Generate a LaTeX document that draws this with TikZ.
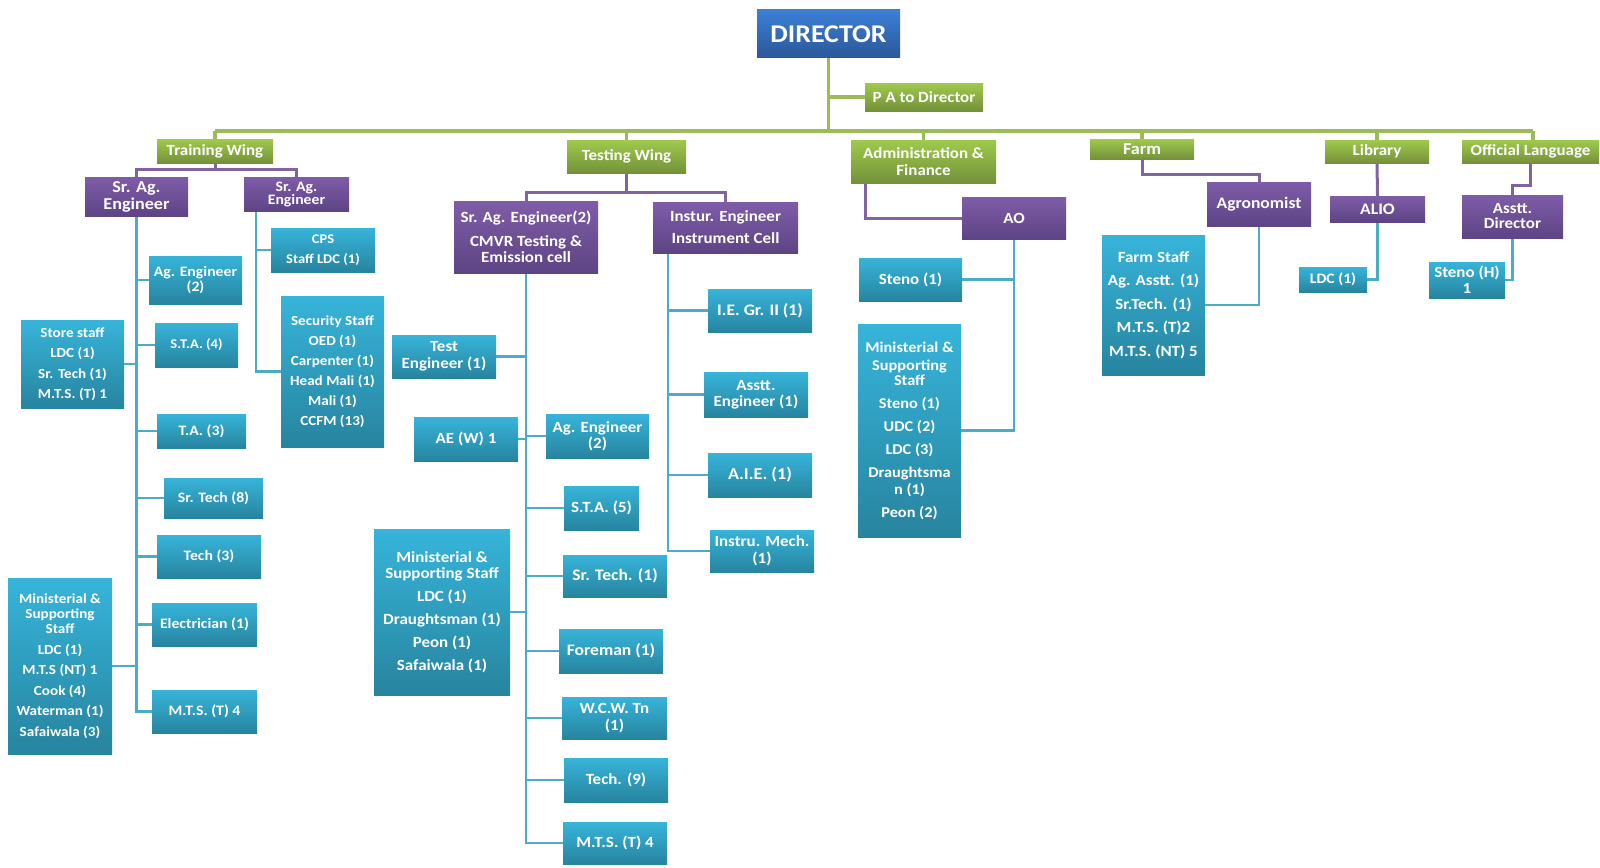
\documentclass[tikz,border=0pt]{standalone}
\usepackage{fontspec}
\setmainfont{Carlito}[FakeStretch=1.09]
\usetikzlibrary{calc}
\pgfdeclarelayer{bg}
\pgfsetlayers{bg,main}
\definecolor{gtop}{HTML}{9FCA4C}
\definecolor{gbot}{HTML}{74913A}
\definecolor{ptop}{HTML}{7F5CA8}
\definecolor{pbot}{HTML}{5D4484}
\definecolor{ttop}{HTML}{37B4DA}
\definecolor{tbot}{HTML}{27849F}
\definecolor{btop}{HTML}{3C80D6}
\definecolor{bbot}{HTML}{2A5797}
\definecolor{gline}{HTML}{9BBB59}
\definecolor{pline}{HTML}{8064A2}
\definecolor{tline}{HTML}{4BACC6}
\newcommand{\myfs}[2]{\fontsize{\fpeval{#1*1.11}}{#2}\selectfont\bfseries\lineskiplimit=-100pt\lineskip=0pt}
\tikzset{
  fs/.style 2 args={font=\myfs{#1}{#2}},
  base/.style={text=white,align=center,inner sep=1pt,draw=none},
  gbx/.style={base,top color=gtop,bottom color=gbot},
  pbx/.style={base,top color=ptop,bottom color=pbot},
  tbx/.style={base,top color=ttop,bottom color=tbot},
  dbx/.style={base,top color=btop,bottom color=bbot},
  gl/.style={draw=gline,line width=3.5pt},
  pl/.style={draw=pline,line width=3pt},
  tl/.style={draw=tline,line width=2.6pt},
}
\newcommand{\ob}[7]{\node[#1,minimum width={(#5-#3)*1pt},minimum height={(#6-#4)*1pt}] (#2) at ({(#3+#5)/2},{(#4+#6)/2}) {#7};}
\begin{document}
\begin{tikzpicture}[x=1pt,y=-1pt]
\useasboundingbox (0,0) rectangle (1600,867);
\coordinate (busL) at (215,131);
\coordinate (busR) at (1533,131);
% ---------- nodes ----------
\ob{dbx,fs={23}{26}}{director}{757}{10}{900}{58}{DIRECTOR}
\ob{gbx,fs={14}{17}}{pa}{865}{83}{983}{111}{P A to Director}
\ob{gbx,fs={14}{17}}{training}{157}{139}{273}{163}{Training Wing}
\ob{gbx,fs={14}{17}}{testing}{567}{140}{686}{173}{Testing Wing}
\ob{gbx,fs={14}{17}}{admin}{851}{140}{996}{183}{Administration \&\\Finance}
\ob{gbx,fs={15}{17}}{farm}{1090}{139}{1194}{159}{Farm}
\ob{gbx,fs={14}{17}}{library}{1325}{140}{1429}{163}{Library}
\ob{gbx,fs={14}{17}}{official}{1462}{140}{1599}{163}{Official Language}
% training wing
\ob{pbx,fs={15}{17}}{srag1}{85}{177}{188}{216}{Sr. Ag.\\Engineer}
\ob{pbx,fs={13}{13}}{srag2}{244}{177}{349}{211}{Sr. Ag.\\Engineer}
\ob{tbx,fs={12}{20}}{cps}{271}{228}{375}{272}{CPS\\Staff LDC (1)}
\ob{tbx,fs={12.5}{20}}{security}{281}{296}{384}{447}{Security Staff\\OED (1)\\Carpenter (1)\\Head Mali (1)\\Mali (1)\\CCFM (13)}
\ob{tbx,fs={13}{15}}{agengT}{149}{256}{242}{304}{Ag. Engineer\\(2)}
\ob{tbx,fs={12.5}{20.5}}{store}{21}{320}{124}{408}{Store staff\\LDC (1)\\Sr. Tech (1)\\M.T.S. (T) 1}
\ob{tbx,fs={12}{15}}{sta4}{155}{323}{238}{367}{S.T.A. (4)}
\ob{tbx,fs={13}{15}}{ta3}{157}{414}{246}{448}{T.A. (3)}
\ob{tbx,fs={13}{15}}{srtech8}{164}{478}{263}{518}{Sr. Tech (8)}
\ob{tbx,fs={13}{15}}{tech3}{157}{535}{261}{578}{Tech (3)}
\ob{tbx,fs={13}{15}}{elec}{152}{603}{257}{646}{Electrician (1)}
\ob{tbx,fs={13}{15}}{mtsT}{152}{690}{257}{733}{M.T.S. (T) 4}
\ob{tbx,fs={12.5}{20.5}}{minT}{8}{578}{112}{754}{Ministerial \&\\[-5.5pt]Supporting\\[-5.5pt]Staff\\LDC (1)\\M.T.S (NT) 1\\Cook (4)\\Waterman (1)\\Safaiwala (3)}
% testing wing
\ob{pbx,fs={14}{24}}{srag3}{454}{201}{598}{273}{Sr. Ag. Engineer(2)\\CMVR Testing \&\\[-8pt]Emission cell}
\ob{pbx,fs={14}{22}}{instur}{653}{202}{798}{253}{Instur. Engineer\\Instrument Cell}
\ob{tbx,fs={14}{17.5}}{testeng}{392}{335}{496}{378}{Test\\Engineer (1)}
\ob{tbx,fs={14.5}{17}}{iegr}{708}{289}{812}{332}{I.E. Gr. II (1)}
\ob{tbx,fs={14}{16}}{asstteng}{704}{372}{808}{417}{Asstt.\\Engineer (1)}
\ob{tbx,fs={14}{16}}{aew}{414}{417}{518}{461}{AE (W) 1}
\ob{tbx,fs={14}{16.5}}{agengTest}{546}{414}{649}{458}{Ag. Engineer\\(2)}
\ob{tbx,fs={15}{17}}{aie}{708}{453}{812}{497}{A.I.E. (1)}
\ob{tbx,fs={14}{16}}{sta5}{564}{486}{639}{530}{S.T.A. (5)}
\ob{tbx,fs={14}{17}}{instmech}{710}{530}{814}{572}{Instru. Mech.\\(1)}
\ob{tbx,fs={14}{23}}{minTest}{374}{529}{510}{695}{Ministerial \&\\[-7pt]Supporting Staff\\LDC (1)\\Draughtsman (1)\\Peon (1)\\Safaiwala (1)}
\ob{tbx,fs={14.5}{17}}{srtech1}{563}{555}{667}{597}{Sr. Tech. (1)}
\ob{tbx,fs={14.5}{17}}{foreman}{559}{629}{663}{673}{Foreman (1)}
\ob{tbx,fs={14}{16.5}}{wcw}{562}{697}{667}{739}{W.C.W. Tn\\(1)}
\ob{tbx,fs={14}{16}}{tech9}{564}{758}{668}{802}{Tech. (9)}
\ob{tbx,fs={14}{16}}{mtsT4}{563}{822}{667}{864}{M.T.S. (T) 4}
% administration
\ob{pbx,fs={14}{16}}{ao}{962}{197}{1066}{239}{AO}
\ob{tbx,fs={14}{16}}{steno}{859}{258}{962}{301}{Steno (1)}
\ob{tbx,fs={13.5}{23}}{minAdmin}{858}{324}{961}{537}{Ministerial \&\\[-5pt]Supporting\\[-8pt]Staff\\Steno (1)\\UDC (2)\\LDC (3)\\Draughtsma\\[-6pt]n (1)\\Peon (2)}
% farm
\ob{pbx,fs={14.5}{17}}{agron}{1207}{182}{1311}{226}{Agronomist}
\ob{tbx,fs={14}{23.5}}{farmstaff}{1102}{235}{1205}{375}{Farm Staff\\Ag. Asstt. (1)\\Sr.Tech. (1)\\M.T.S. (T)2\\M.T.S. (NT) 5}
% library
\ob{pbx,fs={14.5}{17}}{alio}{1330}{196}{1425}{222}{ALIO}
\ob{tbx,fs={13}{15}}{ldc1}{1299}{267}{1367}{292}{LDC (1)}
% official language
\ob{pbx,fs={14}{15}}{asstdir}{1462}{195}{1563}{238}{Asstt.\\Director}
\ob{tbx,fs={14}{16}}{stenoH}{1429}{262}{1505}{298}{Steno (H)\\1}
% ---------- connectors (behind) ----------
\coordinate (tb) at ($(training.south)+(0,6)$);
\coordinate (sb) at ($(testing.south)+(0,19)$);
\coordinate (t2) at ($(srag2.south west)+(12,0)$);
\coordinate (t3) at ($(instur.south west)+(15,0)$);
\coordinate (t4) at ($(admin.south west)+(15,0)$);
\begin{pgfonlayer}{bg}
% green
\draw[gl] (busL) -- (busR);
\draw[gl] (director.south) -- (director.south |- busL);
\draw[gl] (director.south) |- (pa.west);
\draw[gl] (training.north) -- (training.north |- busL);
\draw[gl] (testing.north) -- (testing.north |- busL);
\draw[gl] (admin.north) -- (admin.north |- busL);
\draw[gl] (farm.north) -- (farm.north |- busL);
\draw[gl] (library.north) -- (library.north |- busL);
\draw[gl] (busR) -- (busR |- official.north);
% purple
\draw[pl] (training.south) -- (tb);
\draw[pl] (srag1.north) |- (tb) -| (srag2.north);
\draw[pl] (testing.south) -- (sb);
\draw[pl] (srag3.north) |- (sb) -| (instur.north);
\draw[pl] (t4) |- (ao.west);
\draw[pl] (farm.south) -- ++(0,15) -| (agron.north);
\draw[pl] (library.south) -- (alio.north);
\draw[pl] (official.south) -- ++(0,22) -| (asstdir.north);
% teal
\foreach \n in {agengT,sta4,ta3,srtech8,tech3,elec,mtsT}{\draw[tl] (srag1.south) |- (\n.west);}
\foreach \n in {store,minT}{\draw[tl] (srag1.south) |- (\n.east);}
\foreach \n in {cps,security}{\draw[tl] (t2) |- (\n.west);}
\foreach \n in {agengTest,sta5,srtech1,foreman,wcw,tech9,mtsT4}{\draw[tl] (srag3.south) |- (\n.west);}
\foreach \n in {testeng,aew,minTest}{\draw[tl] (srag3.south) |- (\n.east);}
\foreach \n in {iegr,asstteng,aie,instmech}{\draw[tl] (t3) |- (\n.west);}
\foreach \n in {steno,minAdmin}{\draw[tl] (ao.south) |- (\n.east);}
\draw[tl] (agron.south) |- (farmstaff.east);
\draw[tl] (alio.south) |- (ldc1.east);
\draw[tl] (asstdir.south) |- (stenoH.east);
\end{pgfonlayer}
\end{tikzpicture}
\end{document}
